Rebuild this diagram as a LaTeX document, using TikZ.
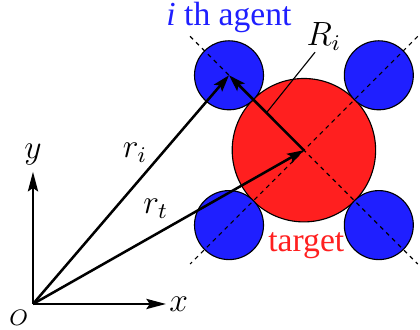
\documentclass[tikz,border=0pt]{standalone}
\usepackage{fontspec}
\setmainfont{Liberation Serif}
\usepackage{amsmath}
\usetikzlibrary{arrows.meta, positioning, calc}
\definecolor{agentblue}{HTML}{1F1FFF}
\definecolor{targetred}{HTML}{FF1F1F}

\begin{document}
\begin{tikzpicture}[
  font=\large,
  agent/.style={circle, draw=black, thin, fill=agentblue, minimum size=0.866cm, inner sep=0pt},
  tgt/.style={circle, draw=black, thin, fill=targetred, minimum size=1.8cm, inner sep=0pt},
  arrow/.style={-{Stealth[length=6pt, width=3.8pt, inset=1.2pt]}, line width=0.9pt},
  axis/.style={-{Stealth[length=7pt, width=3.6pt, inset=1.2pt]}, line width=1pt},
  diag/.style={line width=0.4pt, dash pattern=on 1.5pt off 1.5pt},
  lead/.style={line width=0.4pt}
]
  \useasboundingbox (-0.414,-0.314) rectangle (4.857,3.815);

  % target with its four agents
  \node[tgt] (t) at (3.40,1.93) {};
  \node[agent] (a1) at (2.46,2.87) {};
  \node[agent] (a2) at (4.34,2.87) {};
  \node[agent] (a3) at (2.46,0.99) {};
  \node[agent] (a4) at (4.34,0.99) {};

  \draw[diag] ($(t)!1.52!(a1)$) -- ($(t)!1.52!(a4)$);
  \draw[diag] ($(t)!1.52!(a2)$) -- ($(t)!1.52!(a3)$);

  % axes
  \coordinate (o) at (0,0);
  \coordinate (xt) at (1.67,0);
  \coordinate (yt) at (0,1.66);
  \draw[axis] (o) -- (xt);
  \draw[axis] (o) -- (yt);

  % position vectors
  \draw[arrow] (o) -- (a1.center);
  \draw[arrow] (o) -- (t.center);
  \draw[arrow] (t.center) -- (a1.center);

  \coordinate (rmid) at ($(t)!0.5!(a1)$);
  \coordinate (rtop) at (3.54,3.16);
  \draw[lead] (rtop) -- (rmid);

  % labels
  \node[text=agentblue, anchor=base] (agentlbl) at (2.46,3.50) {\textit{i} th agent};
  \node[text=targetred, anchor=base] (tgtlbl) at (3.43,0.66) {target};
  \node[anchor=base] (Rlbl) at (3.65,3.24) {$R_i$};
  \node (rilbl) at (1.28,1.90) {$r_i$};
  \node (rtlbl) at (1.54,1.20) {$r_t$};
  \node (ylbl) at (0,1.87) {$y$};
  \node (xlbl) at (1.83,0) {$x$};
  \node[font=\footnotesize] (olbl) at (-0.18,-0.18) {$O$};
\end{tikzpicture}
\end{document}
